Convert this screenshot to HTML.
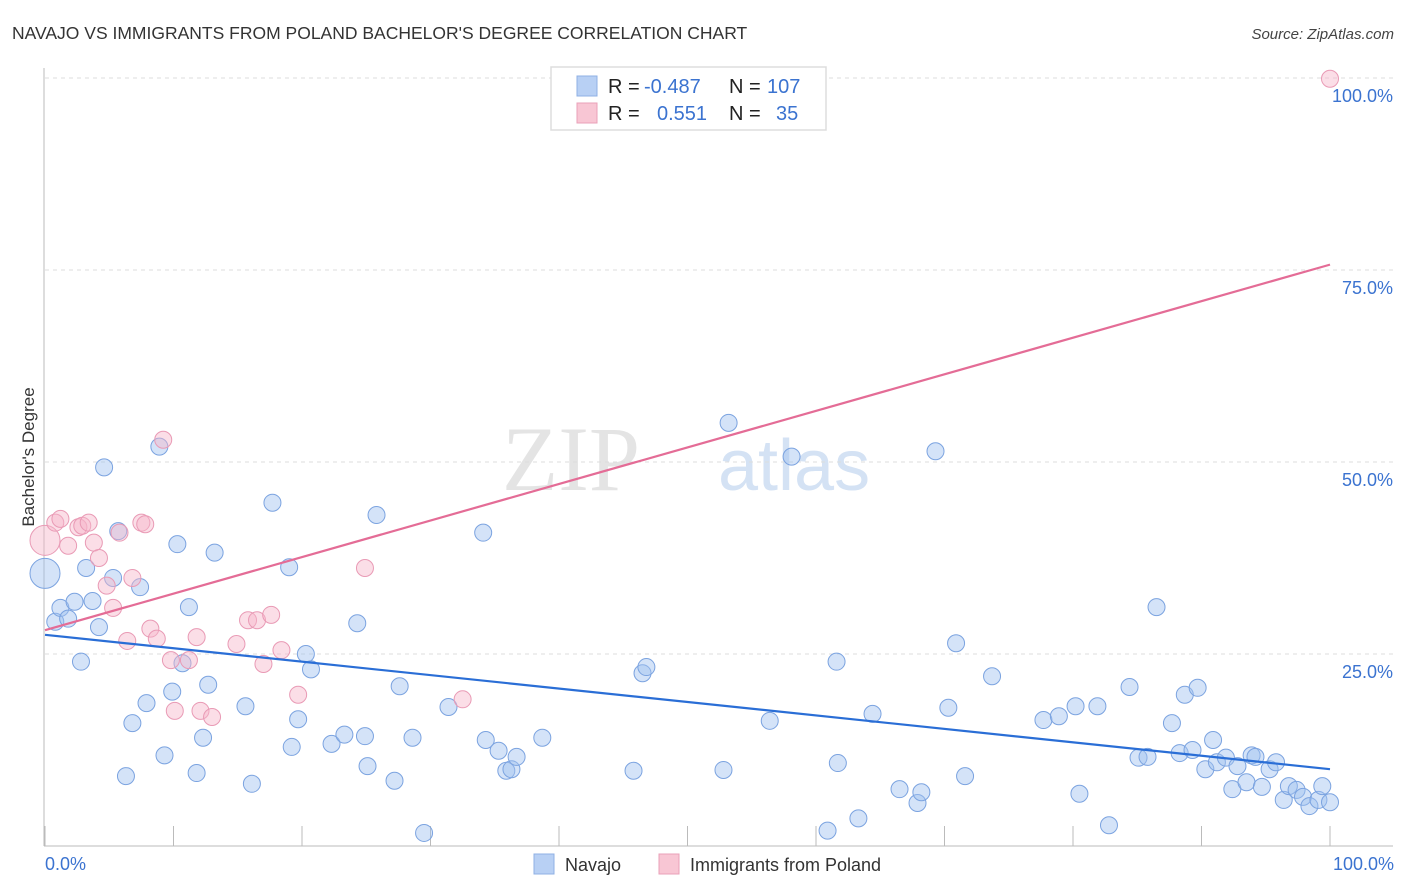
<!DOCTYPE html>
<html><head><meta charset="utf-8"><style>
body{margin:0;background:#fff;font-family:"Liberation Sans",sans-serif;}
svg{display:block}
</style></head><body>
<svg id="chart" width="1406" height="892" xmlns="http://www.w3.org/2000/svg">
<text x="12" y="39" font-size="17.5" fill="#333">NAVAJO VS IMMIGRANTS FROM POLAND BACHELOR'S DEGREE CORRELATION CHART</text>
<text x="1394" y="39" font-size="15" fill="#444" font-style="italic" text-anchor="end">Source: ZipAtlas.com</text>
<text x="640" y="490" font-size="92" fill="#e4e4e4" font-family="Liberation Serif,serif" text-anchor="end">ZIP</text>
<text x="718" y="490" font-size="72" fill="#d4e2f4">atlas</text>
<g id="grid"></g>
<g id="marks"></g>
<text transform="translate(34,457) rotate(-90)" font-size="17" fill="#333" text-anchor="middle">Bachelor's Degree</text>
<text x="45" y="870" font-size="18" fill="#3b73d0">0.0%</text>
<text x="1394" y="870" font-size="18" fill="#3b73d0" text-anchor="end">100.0%</text>
<g>
<rect x="551" y="67" width="275" height="63" fill="#fff" stroke="#ddd" stroke-width="1.5"/>
<rect x="577" y="76" width="20" height="20" fill="#b8d0f4" stroke="#8fb0e4"/>
<rect x="577" y="103" width="20" height="20" fill="#f8c6d4" stroke="#eaa0b8"/>
<text x="608" y="93" font-size="20" fill="#222">R = <tspan x="644" fill="#3b73d0">-0.487</tspan><tspan x="729">N = </tspan><tspan x="767" fill="#3b73d0">107</tspan></text>
<text x="608" y="120" font-size="20" fill="#222">R = <tspan x="657" fill="#3b73d0">0.551</tspan><tspan x="729">N = </tspan><tspan x="776" fill="#3b73d0">35</tspan></text>
</g>
<g>
<rect x="534" y="854" width="20" height="20" fill="#b8d0f4" stroke="#8fb0e4"/>
<text x="565" y="871" font-size="18" fill="#333">Navajo</text>
<rect x="659" y="854" width="20" height="20" fill="#f8c6d4" stroke="#eaa0b8"/>
<text x="690" y="871" font-size="18" fill="#333">Immigrants from Poland</text>
</g>
</svg>
<script>
const blueX=[0,0.8,1.2,1.8,2.3,2.8,3.2,3.7,4.2,4.6,5.3,5.7,6.3,6.8,7.4,7.9,8.9,9.3,9.9,10.3,11.2,10.7,11.8,12.3,12.7,13.2,15.6,16.1,17.7,19.0,19.2,19.7,20.3,20.7,22.3,23.3,24.9,25.1,25.8,24.3,27.2,27.6,28.6,29.5,31.4,34.1,34.3,35.3,35.9,36.3,36.7,38.7,45.8,46.5,46.8,52.8,53.2,56.4,58.1,61.6,61.7,60.9,63.3,64.4,66.5,67.9,68.2,69.3,70.3,70.9,71.6,73.7,77.7,78.9,80.2,80.5,81.9,82.8,84.4,85.1,85.8,86.5,87.7,88.3,88.7,89.3,89.7,90.3,90.9,91.2,91.9,92.4,92.8,93.5,93.9,94.2,94.7,95.3,95.8,96.4,96.8,97.4,97.9,98.4,99.1,99.4,100];
const blueY=[35.5,29.2,31.0,29.6,31.8,24.0,36.2,31.9,28.5,49.3,34.9,41.0,9.1,16.0,33.7,18.6,52.0,11.8,20.1,39.3,31.1,23.8,9.5,14.1,21.0,38.2,18.2,8.1,44.7,36.3,12.9,16.5,25.0,23.0,13.3,14.5,14.3,10.4,43.1,29.0,8.5,20.8,14.1,1.7,18.1,40.8,13.8,12.4,9.8,10.0,11.6,14.1,9.8,22.5,23.3,9.9,55.1,16.3,50.7,24.0,10.8,2.0,3.6,17.2,7.4,5.6,7.0,51.4,18.0,26.4,9.1,22.1,16.4,16.9,18.2,6.8,18.2,2.7,20.7,11.5,11.6,31.1,16.0,12.1,19.7,12.5,20.6,10.0,13.8,10.9,11.5,7.4,10.4,8.3,11.8,11.6,7.7,10.0,10.9,6.0,7.8,7.3,6.4,5.2,6.0,7.8,5.7];
const pinkX=[0,0.8,1.2,1.8,2.6,2.9,3.4,3.8,4.2,4.8,5.3,5.8,6.4,6.8,7.5,7.8,8.2,8.7,9.2,9.8,10.1,11.2,11.8,12.1,13.0,14.9,15.8,16.5,17.0,17.6,18.4,19.7,24.9,32.5,100];
const pinkY=[39.8,42.1,42.6,39.1,41.5,41.7,42.1,39.5,37.5,33.9,31.0,40.8,26.7,34.9,42.1,41.9,28.3,27.0,52.9,24.2,17.6,24.2,27.2,17.6,16.8,26.3,29.4,29.4,23.7,30.1,25.5,19.7,36.2,19.1,99.9];
const blueTrend=[27.5,10.0];
const pinkTrend=[28.1,75.7];
const yTicks=[25,50,75,100];
const yTickLabels=["25.0%","50.0%","75.0%","100.0%"];
const xTicks=[0,10,20,30,40,50,60,70,80,90,100];

const NS="http://www.w3.org/2000/svg";
const sx=v=>45+v*12.85, sy=v=>846-v*7.68;
const grid=document.getElementById('grid'), marks=document.getElementById('marks');
function mk(tag,attrs,parent){const e=document.createElementNS(NS,tag);for(const k in attrs)e.setAttribute(k,attrs[k]);parent.appendChild(e);return e;}
yTicks.forEach((t,i)=>{
  const l=mk('line',{x1:45,x2:1393,y1:sy(t),y2:sy(t),stroke:'#ddd','stroke-dasharray':'4,4'},grid);
  
  
  const tx=mk('text',{x:1393,y:sy(t)+24,'font-size':18,fill:'#3b73d0','text-anchor':'end'},grid);
  tx.textContent=yTickLabels[i];
  
  
});
const ax=mk('line',{x1:44,x2:44,y1:68,y2:846,stroke:'#bbb'},grid);


const bx=mk('line',{x1:44,x2:1393,y1:846,y2:846,stroke:'#bbb'},grid);


xTicks.forEach(t=>{
  const l=mk('line',{x1:sx(t),x2:sx(t),y1:826,y2:846,stroke:'#bbb'},grid);
  
  
});
blueX.forEach((x,i)=>{
  const c=mk('circle',{cx:sx(x),cy:sy(blueY[i]),r:i===0?15:8.5,fill:'rgba(160,192,240,0.45)',stroke:'#7ba3e0','stroke-width':1},marks);
  
  
});
pinkX.forEach((x,i)=>{
  const c=mk('circle',{cx:sx(x),cy:sy(pinkY[i]),r:i===0?15:8.5,fill:'rgba(246,182,202,0.45)',stroke:'#e99ab5','stroke-width':1},marks);
  
  
});
const bl=mk('line',{x1:sx(0),y1:sy(blueTrend[0]),x2:sx(100),y2:sy(blueTrend[1]),stroke:'#2a6ed6','stroke-width':2.2},marks);


const pl=mk('line',{x1:sx(0),y1:sy(pinkTrend[0]),x2:sx(100),y2:sy(pinkTrend[1]),stroke:'#e46c96','stroke-width':2.2},marks);


</script>
</body></html>
